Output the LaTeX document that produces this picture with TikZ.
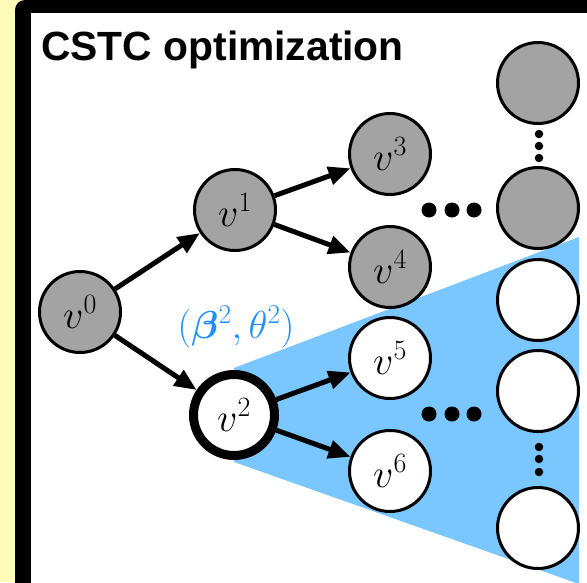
\RequirePackage{fix-cm}
\documentclass[tikz,border=0pt]{standalone}
\usepackage{amsmath,bm}
\usepackage{fontspec}
\newfontfamily\titlefont{Liberation Sans}
\usetikzlibrary{arrows.meta}

\definecolor{nodegray}{RGB}{163,163,163}
\definecolor{wedgeblue}{RGB}{122,199,255}
\definecolor{labelblue}{RGB}{30,144,255}
\definecolor{paneyellow}{RGB}{255,252,185}

\begin{document}
\begin{tikzpicture}[x=1pt,y=-1pt,
  vertex/.style={circle,draw=black,line width=3pt,minimum size=81pt,inner sep=0pt,
                 font=\fontsize{40}{42}\selectfont},
  grayv/.style={vertex,fill=nodegray},
  whitev/.style={vertex,fill=white},
  curv/.style={vertex,fill=white,line width=9pt},
  edge/.style={line width=5pt,-{Triangle[length=22pt,width=18pt]}},
  bigdot/.style={circle,fill=black,inner sep=0pt,minimum size=15pt},
  smalldot/.style={circle,fill=black,inner sep=0pt,minimum size=8.5pt}]
\useasboundingbox (0,0) rectangle (587,582);
\begin{scope}
\clip (0,0) rectangle (587,582);
% panel background and frame
\fill[paneyellow] (0,0) rectangle (587,582);
\fill[black, rounded corners=10pt] (15,0) rectangle (640,640);
\fill[white] (31,13) rectangle (640,640);

% subtree region below the current vertex
\fill[wedgeblue] (234,368) -- (579,237) -- (579,584) -- (234,462) -- cycle;

% title
\node[anchor=base west, inner sep=0pt,
      font=\titlefont\bfseries\fontsize{40.8}{44}\selectfont] (title) at (41,60) {CSTC optimization};

% tree vertices
\node[grayv] (v0) at (80,312) {$v^0$};
\node[grayv] (v1) at (235,210) {$v^1$};
\node[curv]  (v2) at (234,415) {$v^2$};
\node[grayv] (v3) at (390,154) {$v^3$};
\node[grayv] (v4) at (390,267) {$v^4$};
\node[whitev] (v5) at (390,358) {$v^5$};
\node[whitev] (v6) at (390,471) {$v^6$};

% leaf column
\node[grayv]  (l1) at (538,83) {};
\node[grayv]  (l2) at (538,208) {};
\node[whitev] (l3) at (538,300) {};
\node[whitev] (l4) at (538,391) {};
\node[whitev] (l5) at (538,528) {};

% edges
\draw[edge] (v0) -- (v1);
\draw[edge] (v0) -- (v2);
\draw[edge] (v1) -- (v3);
\draw[edge] (v1) -- (v4);
\draw[edge] (v2) -- (v5);
\draw[edge] (v2) -- (v6);

% ellipses
\node[bigdot] (ha1) at (429,210) {};
\node[bigdot] (ha2) at (452,210) {};
\node[bigdot] (ha3) at (474,210) {};
\node[bigdot] (hb1) at (429,414) {};
\node[bigdot] (hb2) at (452,414) {};
\node[bigdot] (hb3) at (474,414) {};
\node[smalldot] (va1) at (539,134) {};
\node[smalldot] (va2) at (539,146) {};
\node[smalldot] (va3) at (539,158) {};
\node[smalldot] (vb1) at (539,447) {};
\node[smalldot] (vb2) at (539,459) {};
\node[smalldot] (vb3) at (539,472) {};

% parameters of the current vertex
\node[text=labelblue, font=\fontsize{39}{41}\selectfont] (params) at (236,327)
  {$(\bm{\beta}^2,\theta^2)$};
\end{scope}
\end{tikzpicture}
\end{document}
